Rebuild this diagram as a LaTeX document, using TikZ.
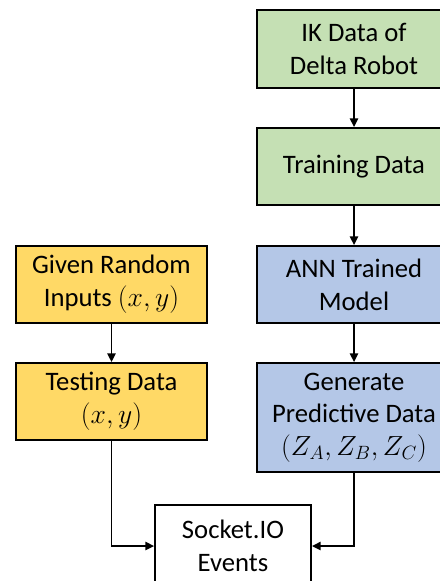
\documentclass[tikz,border=0pt]{standalone}
\usepackage{fontspec}
\setmainfont{Carlito}
\usetikzlibrary{arrows.meta}

\tikzset{every picture/.style={line width=0.75pt}}
\tikzset{
  flowbox/.style={draw=black, line width=1.3pt, align=center, inner sep=0.75pt,
    font=\fontsize{20}{24.5}\selectfont},
  greenbox/.style={flowbox, fill={rgb,255:red,197;green,224;blue,180}},
  bluebox/.style={flowbox, fill={rgb,255:red,180;green,199;blue,231}},
  yellowbox/.style={flowbox, fill={rgb,255:red,255;green,217;blue,102}},
  whitebox/.style={flowbox, fill=white},
  flowarrow/.style={draw=black, line width=1.4pt, -{Triangle[length=6.5pt,width=6pt]}}
}

\begin{document}
\begin{tikzpicture}[x=0.75pt,y=0.75pt,yscale=-1,xscale=1]
\useasboundingbox (0,0) rectangle (439,581);

%Shape: Rectangle [id:ik]
\node [greenbox, minimum width=146pt, minimum height=58.5pt] (ik) at (354,49) {IK Data of\\Delta Robot};
%Shape: Rectangle [id:train]
\node [greenbox, minimum width=146pt, minimum height=57.75pt] (train) at (354,166.5) {Training Data};
%Shape: Rectangle [id:ann]
\node [bluebox, minimum width=146pt, minimum height=57.75pt] (ann) at (354,284.5) {ANN Trained\\Model};
%Shape: Rectangle [id:gen]
\node [bluebox, minimum width=146pt, minimum height=81.75pt] (gen) at (354,417.5) {Generate\\Predictive Data\\$(Z_A,Z_B,Z_C)$};
%Shape: Rectangle [id:given]
\node [yellowbox, minimum width=143.25pt, minimum height=57.75pt] (given) at (111.5,284.5) {Given Random\\Inputs $(x,y)$};
%Shape: Rectangle [id:test]
\node [yellowbox, minimum width=143.25pt, minimum height=57.75pt] (test) at (111.5,401.5) {Testing Data\\$(x,y)$};
%Shape: Rectangle [id:socket]
\node [whitebox, minimum width=117pt, minimum height=61.5pt] (socket) at (233,546) {Socket.IO\\Events};

%Straight Lines
\draw [flowarrow] (ik) -- (train);
\draw [flowarrow] (train) -- (ann);
\draw [flowarrow] (ann) -- (gen);
\draw [flowarrow] (given) -- (test);
%Elbow Lines
\draw [flowarrow] (test.south) |- (socket.west);
\draw [flowarrow] (gen.south) |- (socket.east);

\end{tikzpicture}
\end{document}
